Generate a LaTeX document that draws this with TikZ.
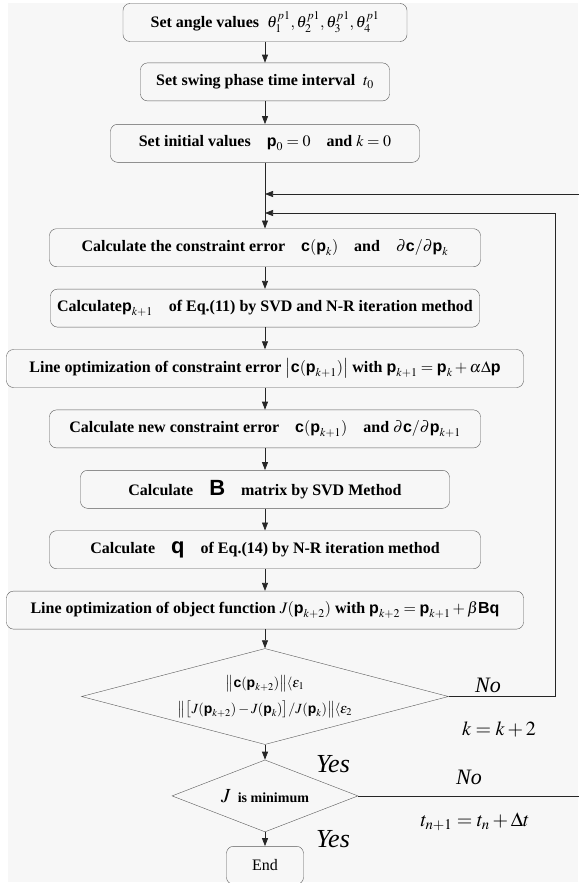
\documentclass[tikz,border=0pt]{standalone}
\usepackage{amsmath}
\usepackage{mathptmx}
\usepackage[no-math]{fontspec}
\setmainfont{Liberation Serif}
\setsansfont{Liberation Sans}
\usepackage{tikz}
\usetikzlibrary{arrows.meta,shapes.geometric,positioning,calc}
\definecolor{bggray}{RGB}{247,247,247}
\definecolor{edgegray}{RGB}{90,90,90}
\newcommand{\bv}[1]{\text{\sffamily\bfseries #1}}
\newcommand{\bvbig}[1]{\text{\fontsize{22}{22}\selectfont\sffamily\bfseries #1}}
\tikzset{
    proc/.style={draw=edgegray, rounded corners=7pt, minimum height=38pt, inner sep=2pt,
                 font=\bfseries\fontsize{16}{18}\selectfont},
    decide/.style={draw=edgegray, diamond, inner sep=0pt, font=\fontsize{14}{17}\selectfont},
    flow/.style={-{Triangle[length=8pt, width=6pt]}, black!85, line width=0.7pt},
    answer/.style={font=\itshape\fontsize{22}{24}\selectfont},
    update/.style={font=\fontsize{20}{22}\selectfont}
}
\begin{document}
\begin{tikzpicture}[x=1pt, y=-1pt, node distance=22pt]
\useasboundingbox (0,0) rectangle (578,883);
\fill[bggray] (8,3) rectangle (578,882);
\node[proc, minimum width=284pt] (angles) at (265,22.5) {Set angle values\ \ $\theta_1^{p1},\theta_2^{p1},\theta_3^{p1},\theta_4^{p1}$};
\node[proc, minimum width=249pt, below=21pt of angles] (swing) {Set swing phase time interval\ \ $t_0$};
\node[proc, minimum width=309pt, below=23pt of swing] (init) {Set initial values\quad $\bv{p}_0=0$\quad and $k=0$};
\node[proc, minimum width=431pt, below=66pt of init] (cerr) {Calculate the constraint error\quad $\bv{c}(\bv{p}_k)$\quad and\quad $\partial\bv{c}/\partial\bv{p}_k$};
\node[proc, minimum width=429pt, below=of cerr] (pnext) {Calculate$\bv{p}_{k+1}$\quad of Eq.(11) by SVD and N-R iteration method};
\node[proc, minimum width=517pt, below=of pnext] (lineopt) {Line optimization of constraint error $\big|\bv{c}(\bv{p}_{k+1})\big|$ with $\bv{p}_{k+1}=\bv{p}_k+\alpha\Delta\bv{p}$};
\node[proc, minimum width=431pt, below=of lineopt] (cnew) {Calculate new constraint error\quad $\bv{c}(\bv{p}_{k+1})$\quad and $\partial\bv{c}/\partial\bv{p}_{k+1}$};
\node[proc, minimum width=369pt, below=of cnew] (bmat) {Calculate\quad $\bvbig{B}$\quad matrix by SVD Method};
\node[proc, minimum width=431pt, below=of bmat] (qvec) {Calculate\quad $\bvbig{q}$\quad of Eq.(14) by N-R iteration method};
\node[proc, minimum width=517pt, below=of qvec] (objopt) {Line optimization of object function $J(\bv{p}_{k+2})$ with $\bv{p}_{k+2}=\bv{p}_{k+1}+\beta\bv{B}\bv{q}$};
\node[decide, aspect=3.8, minimum width=367pt, minimum height=96pt, below=19pt of objopt, align=center] (conv)
    {$\big\|\bv{c}(\bv{p}_{k+2})\big\|\langle\varepsilon_1$\\[9pt]
     $\big\|\big[J(\bv{p}_{k+2})-J(\bv{p}_k)\big]/J(\bv{p}_k)\big\|\langle\varepsilon_2$};
\node[decide, aspect=2.6, minimum width=186pt, minimum height=72pt, below=15pt of conv] (jmin)
    {{\fontsize{20}{20}\selectfont$J$}\ \ {\bfseries\fontsize{14}{15}\selectfont is minimum}};
\node[proc, minimum width=77pt, font=\fontsize{16}{17}\selectfont, below=14pt of jmin] (stop) {End};
\coordinate (join1) at (265,194);
\coordinate (join2) at (265,213);
\coordinate (outer) at (579,194);
\coordinate (inner) at (555,213);
\draw[flow] (angles) -- (swing);
\draw[flow] (swing) -- (init);
\draw[flow] (init) -- (cerr);
\draw[flow] (cerr) -- (pnext);
\draw[flow] (pnext) -- (lineopt);
\draw[flow] (lineopt) -- (cnew);
\draw[flow] (cnew) -- (bmat);
\draw[flow] (bmat) -- (qvec);
\draw[flow] (qvec) -- (objopt);
\draw[flow] (objopt) -- (conv);
\draw[flow] (conv) -- (jmin);
\draw[flow] (jmin) -- (stop);
\draw[flow] (conv.east) -| (inner) -- (join2);
\draw[flow] (jmin.east) -| (outer) -- (join1);
\node[answer] (no1) at (488,685) {No};
\node[update] (kstep) at (499,729) {$k=k+2$};
\node[answer, font=\itshape\fontsize{26}{28}\selectfont] (yes1) at (333,764) {Yes};
\node[answer] (no2) at (469,777) {No};
\node[update] (tstep) at (475,822) {$t_{n+1}=t_n+\Delta t$};
\node[answer, font=\itshape\fontsize{26}{28}\selectfont] (yes2) at (333,839) {Yes};
\end{tikzpicture}
\end{document}
